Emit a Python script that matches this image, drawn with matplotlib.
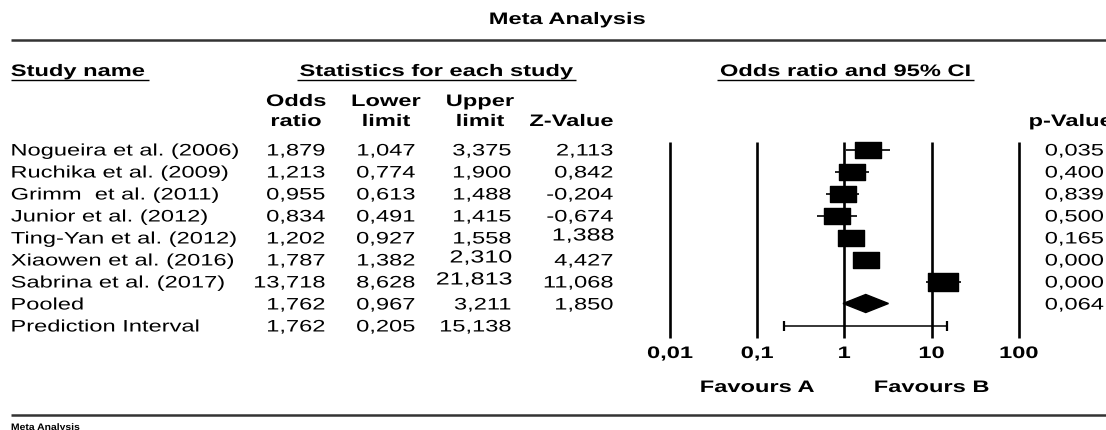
import matplotlib
matplotlib.use("Agg")
import matplotlib.pyplot as plt
import matplotlib.patheffects as pe
from matplotlib.transforms import Affine2D
from matplotlib.path import Path
from matplotlib.lines import Line2D

# ---------------- data ----------------
studies = ["Nogueira et al. (2006)", "Ruchika et al. (2009)", "Grimm  et al. (2011)",
           "Junior et al. (2012)", "Ting-Yan et al. (2012)", "Xiaowen et al. (2016)",
           "Sabrina et al. (2017)"]
odds = [1.879, 1.213, 0.955, 0.834, 1.202, 1.787, 13.718]
lower = [1.047, 0.774, 0.613, 0.491, 0.927, 1.382, 8.628]
upper = [3.375, 1.900, 1.488, 1.415, 1.558, 2.310, 21.813]
zvals = [2.113, 0.842, -0.204, -0.674, 1.388, 4.427, 11.068]
pvals = [0.035, 0.400, 0.839, 0.500, 0.165, 0.000, 0.000]
rel_weight = [1.00, 1.00, 0.98, 0.98, 1.00, 1.02, 1.10]

pooled_label = "Pooled"
pooled = [1.762, 0.967, 3.211]
pooled_z = 1.850
pooled_p = 0.064
pi_label = "Prediction Interval"
pred_int = [1.762, 0.205, 15.138]

axis_ticks = [0.01, 0.1, 1, 10, 100]
axis_ticklabels = ["0,01", "0,1", "1", "10", "100"]

# ---------------- layout helpers ----------------
W, H = 1106, 430
SX = 1.42
FS = 12
fig = plt.figure(figsize=(W / 100, H / 100), dpi=100)
PX = Affine2D().scale(1 / W, -1 / H).translate(0, 1) + fig.transFigure


class HStretch(pe.AbstractPathEffect):
    """Widen glyph outlines horizontally about the text's alignment point."""

    def __init__(self, sx, frac):
        super().__init__()
        self.sx = sx
        self.frac = frac

    def draw_path(self, renderer, gc, tpath, affine, rgbFace=None):
        ext = tpath.get_extents(affine)
        pv = ext.x0 + self.frac * ext.width
        t = affine + Affine2D().translate(-pv, 0).scale(self.sx, 1).translate(pv, 0)
        renderer.draw_path(gc, tpath, t, rgbFace)


def txt(x, y, s, ha="left", bold=False, size=FS, sx=SX, color="black"):
    frac = {"left": 0.0, "center": 0.5, "right": 1.0}[ha]
    fig.text(x, y, s, transform=PX, ha=ha, va="baseline", fontsize=size,
             fontweight="bold" if bold else "normal", family="Liberation Sans",
             color=color, path_effects=[HStretch(sx, frac)])


def hline(x0, x1, y, lw=1.0, color="black"):
    fig.add_artist(Line2D([x0, x1], [y, y], transform=PX, lw=lw, color=color,
                          solid_capstyle="butt"))


def fmt(v):
    return f"{v:.3f}".replace(".", ",")


# ---------------- header ----------------
txt(567, 24, "Meta Analysis", ha="center", bold=True, size=12)
hline(11, W, 40, lw=1.8, color="#333333")

txt(11, 76, "Study name", bold=True)
hline(11, 149, 80)
txt(436, 76, "Statistics for each study", ha="center", bold=True)
hline(297, 576, 80)
txt(845, 76, "Odds ratio and 95% CI", ha="center", bold=True)
hline(717, 974, 80)

col_x = [325, 415, 511, 613]
txt(296, 106, "Odds", ha="center", bold=True)
txt(296, 126, "ratio", ha="center", bold=True)
txt(386, 106, "Lower", ha="center", bold=True)
txt(386, 126, "limit", ha="center", bold=True)
txt(480, 106, "Upper", ha="center", bold=True)
txt(480, 126, "limit", ha="center", bold=True)
txt(613, 126, "Z-Value", ha="right", bold=True)
txt(1029, 126, "p-Value", ha="left", bold=True)

# ---------------- table rows ----------------
Y0, DY = 149.5, 22.0
PCOL = 1045
# a few cells in the source image sit slightly higher and larger than the rest
raised = {(5, 2), (6, 2), (4, 3)}
for i, name in enumerate(studies):
    yb = Y0 + DY * i + 6
    txt(11, yb, name)
    for j, v in enumerate([odds[i], lower[i], upper[i], zvals[i]]):
        if (i, j) in raised:
            txt(col_x[j] + 1, yb - 3, fmt(v), ha="right", size=FS * 1.06)
        else:
            txt(col_x[j], yb, fmt(v), ha="right")
    txt(PCOL, yb, fmt(pvals[i]))

yb = Y0 + DY * 7 + 6
txt(11, yb, pooled_label)
for cx, v in zip(col_x, pooled + [pooled_z]):
    txt(cx, yb, fmt(v), ha="right")
txt(PCOL, yb, fmt(pooled_p))

yb = Y0 + DY * 8 + 6
txt(11, yb, pi_label)
for cx, v in zip(col_x, pred_int):
    txt(cx, yb, fmt(v), ha="right")

# ---------------- forest plot ----------------
X_ONE, DEC = 844.3, 87.2
left_px, right_px, top_px, bot_px = 640, 1040, 130, 345
ax = fig.add_axes([left_px / W, 1 - bot_px / H, (right_px - left_px) / W, (bot_px - top_px) / H])
ax.set_xscale("log")
ax.set_xlim(10 ** ((left_px - X_ONE) / DEC), 10 ** ((right_px - X_ONE) / DEC))
ax.set_ylim((bot_px - Y0) / DY, (top_px - Y0) / DY)
ax.axis("off")

ax.vlines(axis_ticks, (142 - Y0) / DY, (338 - Y0) / DY, color="black", lw=1.9)

rows = list(range(len(studies)))
ax.hlines(rows, lower, upper, color="black", lw=1.2)
rect = Path([(-1, -0.62), (1, -0.62), (1, 0.62), (-1, 0.62), (-1, -0.62)],
            [Path.MOVETO, Path.LINETO, Path.LINETO, Path.LINETO, Path.CLOSEPOLY])
for r, o, w in zip(rows, odds, rel_weight):
    ax.plot([o], [r], marker=rect, markersize=19 * w, color="black", linestyle="none")

yp = len(studies)
hh = 0.41
ax.fill([pooled[1], pooled[0], pooled[2], pooled[0]], [yp, yp - hh, yp, yp + hh], color="black")

ypi = yp + 1
ax.errorbar([pred_int[0]], [ypi], xerr=[[pred_int[0] - pred_int[1]], [pred_int[2] - pred_int[0]]],
            fmt="none", ecolor="black", elinewidth=1.1, capsize=3.3, capthick=1.6)

for t, lab in zip(axis_ticks, axis_ticklabels):
    ax.text(t, (358 - Y0) / DY, lab, ha="center", va="baseline", fontsize=FS, fontweight="bold",
            family="Liberation Sans", clip_on=False, path_effects=[HStretch(SX, 0.5)])

ax.text(axis_ticks[1], (392 - Y0) / DY, "Favours A", ha="center", va="baseline", fontsize=FS,
        fontweight="bold", family="Liberation Sans", clip_on=False, path_effects=[HStretch(SX, 0.5)])
ax.text(axis_ticks[3], (392 - Y0) / DY, "Favours B", ha="center", va="baseline", fontsize=FS,
        fontweight="bold", family="Liberation Sans", clip_on=False, path_effects=[HStretch(SX, 0.5)])

# ---------------- footer ----------------
hline(11, W, 415, lw=1.8, color="#333333")
txt(11, 430, "Meta Analysis", bold=True, size=6.8, sx=1.1)

fig.savefig("out.png", dpi=100)
